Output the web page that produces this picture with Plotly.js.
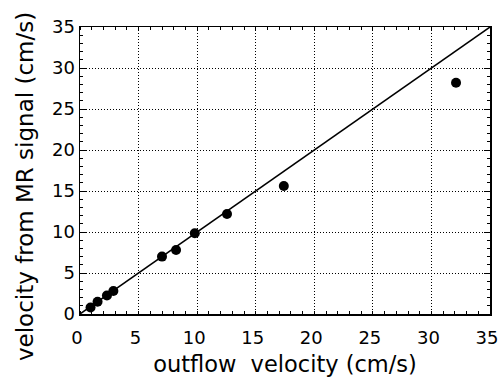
<!DOCTYPE html>
<html>
<head>
<meta charset="utf-8">
<script src="https://cdn.plot.ly/plotly-3.0.1.min.js"></script>
<style>html,body{margin:0;padding:0;background:#fff;}#chart{width:501px;height:383px;}</style>
</head>
<body>
<div id="chart"></div>
<script>
const outflowVelocity = [0.9, 1.5, 2.3, 2.85, 7.0, 8.2, 9.8, 12.55, 17.4, 32.1];
const mrVelocity = [0.8, 1.5, 2.25, 2.8, 7.0, 7.8, 9.85, 12.2, 15.6, 28.2];
const identityX = [0, 35];
const identityY = [0, 35];
const tickVals = [0, 5, 10, 15, 20, 25, 30, 35];
const tickText = ['0', '5', '10', '15', '20', '25', '30', '35'];
const xTitle = 'outflow\u00a0 velocity (cm/s)';
const yTitle = 'velocity from MR signal (cm/s)';

const font = 'DejaVu Sans, Verdana, sans-serif';

const traces = [
  {x: identityX, y: identityY, mode: 'lines', line: {color: '#000', width: 1.5}, hoverinfo: 'skip'},
  {x: outflowVelocity, y: mrVelocity, mode: 'markers', marker: {color: '#000', size: 10}}
];

function axis(title, standoff, titleSize) {
  return {
    range: [0, 35],
    tickvals: tickVals,
    ticktext: tickText,
    ticks: 'inside',
    ticklen: 6,
    tickwidth: 1,
    tickcolor: '#000',
    showline: true,
    linecolor: '#000',
    linewidth: 1.5,
    mirror: 'allticks',
    showgrid: true,
    gridcolor: '#000',
    gridwidth: 1,
    griddash: '1px,2px',
    zeroline: false,
    ticklabeloverflow: 'allow',
    tickfont: {family: font, size: 18, color: '#000'},
    minor: {dtick: 1, tick0: 0, ticks: 'inside', ticklen: 3, tickwidth: 1, tickcolor: '#000', showgrid: false},
    title: {text: title, standoff: standoff, font: {family: font, size: titleSize, color: '#000'}}
  };
}

const layout = {
  width: 501,
  height: 383,
  margin: {l: 80, r: 11, t: 27, b: 69},
  paper_bgcolor: '#fff',
  plot_bgcolor: '#fff',
  showlegend: false,
  xaxis: Object.assign(axis(xTitle, 9, 22.5), {ticklabelshift: -3, ticks: 'outside', ticklen: 7, tickcolor: '#fff'}),
  yaxis: axis('', 9, 23),
  annotations: [{
    text: yTitle,
    xref: 'paper', yref: 'paper',
    x: -0.134, y: 0.4425,
    xanchor: 'center', yanchor: 'middle',
    textangle: -90,
    showarrow: false,
    font: {family: font, size: 23, color: '#000'}
  }]
};

Plotly.newPlot('chart', traces, layout, {staticPlot: true, displayModeBar: false});
</script>
</body>
</html>
